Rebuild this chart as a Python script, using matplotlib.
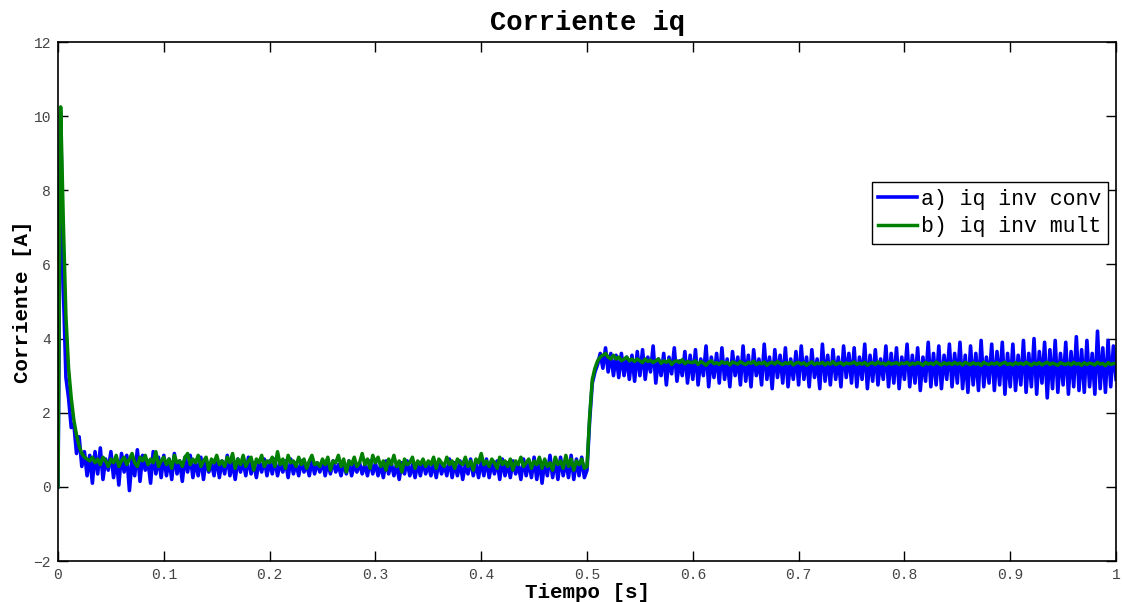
import numpy as np
import matplotlib
matplotlib.use('Agg')
import matplotlib.pyplot as plt

plt.rcParams['font.family'] = ['Liberation Mono', 'DejaVu Sans Mono']

# sample time (s), 0.0025 s step
t = np.linspace(0, 1, 401)

# a) iq inv conv
iq_conv = [
    0.00, 10.10, 5.40, 2.95, 2.40, 1.60, 1.70, 0.90, 1.35, 0.55, 0.95, 0.30, 0.85, 0.10, 0.95, 0.35, 1.05, 0.20, 0.75, 0.45,
    0.95, 0.25, 0.80, 0.05, 0.90, 0.40, 0.85, -0.10, 0.75, 0.30, 1.00, 0.15, 0.85, 0.45, 0.70, 0.10, 0.95, 0.35, 0.80, 0.25,
    0.85, 0.30, 0.75, 0.20, 0.90, 0.35, 0.70, 0.15, 0.80, 0.40, 0.85, 0.25, 0.70, 0.30, 0.80, 0.20, 0.75, 0.40, 0.65, 0.30,
    0.80, 0.25, 0.70, 0.35, 0.85, 0.30, 0.65, 0.20, 0.75, 0.40, 0.70, 0.30, 0.80, 0.35, 0.65, 0.25, 0.70, 0.40, 0.75, 0.30,
    0.70, 0.35, 0.75, 0.30, 0.65, 0.40, 0.70, 0.25, 0.75, 0.35, 0.65, 0.30, 0.70, 0.40, 0.60, 0.30, 0.70, 0.35, 0.65, 0.40,
    0.70, 0.30, 0.65, 0.35, 0.70, 0.40, 0.60, 0.30, 0.65, 0.35, 0.70, 0.30, 0.60, 0.40, 0.65, 0.35, 0.60, 0.30, 0.70, 0.35,
    0.65, 0.30, 0.60, 0.25, 0.70, 0.35, 0.65, 0.30, 0.60, 0.20, 0.65, 0.35, 0.70, 0.30, 0.60, 0.25, 0.65, 0.30, 0.70, 0.35,
    0.60, 0.30, 0.65, 0.25, 0.70, 0.35, 0.60, 0.30, 0.75, 0.25, 0.65, 0.30, 0.70, 0.20, 0.60, 0.35, 0.75, 0.30, 0.65, 0.25,
    0.70, 0.30, 0.75, 0.25, 0.65, 0.35, 0.70, 0.20, 0.75, 0.30, 0.65, 0.25, 0.70, 0.35, 0.60, 0.20, 0.75, 0.30, 0.70, 0.25,
    0.80, 0.20, 0.75, 0.10, 0.70, 0.30, 0.85, 0.25, 0.75, 0.20, 0.80, 0.30, 0.70, 0.25, 0.85, 0.20, 0.75, 0.30, 0.80, 0.25,
    0.45, 1.80, 2.80, 3.10, 3.30, 3.60, 3.20, 3.75, 3.10, 3.60, 3.00, 3.55, 2.95, 3.60, 3.00, 3.50, 2.90, 3.55, 2.85, 3.65,
    3.00, 3.70, 2.90, 3.50, 3.10, 3.80, 2.80, 3.45, 3.00, 3.60, 2.75, 3.50, 3.05, 3.75, 2.85, 3.40, 3.00, 3.65, 2.80, 3.55,
    2.90, 3.70, 2.75, 3.45, 3.00, 3.80, 2.70, 3.50, 2.95, 3.60, 2.80, 3.75, 2.90, 3.45, 2.70, 3.65, 3.00, 3.50, 2.75, 3.80,
    2.85, 3.55, 2.70, 3.70, 3.00, 3.45, 2.75, 3.85, 2.90, 3.50, 2.65, 3.70, 2.95, 3.55, 2.80, 3.75, 2.70, 3.45, 2.90, 3.65,
    2.75, 3.80, 2.90, 3.50, 2.70, 3.70, 2.95, 3.45, 2.65, 3.85, 2.85, 3.55, 2.75, 3.70, 2.90, 3.50, 2.70, 3.80, 2.95, 3.60,
    2.80, 3.75, 2.70, 3.50, 2.90, 3.85, 2.65, 3.55, 2.85, 3.70, 2.75, 3.45, 2.90, 3.80, 2.70, 3.60, 2.80, 3.75, 2.65, 3.50,
    2.90, 3.85, 2.70, 3.55, 2.80, 3.75, 2.60, 3.50, 2.85, 3.90, 2.70, 3.60, 2.75, 3.80, 2.65, 3.55, 2.90, 3.85, 2.70, 3.60,
    2.80, 3.90, 2.65, 3.55, 2.55, 3.80, 2.75, 3.60, 2.60, 3.95, 2.70, 3.50, 2.80, 3.85, 2.60, 3.65, 2.75, 3.90, 2.50, 3.60,
    2.70, 3.85, 2.60, 3.55, 2.75, 3.95, 2.55, 3.60, 2.70, 4.00, 2.50, 3.65, 2.80, 3.90, 2.40, 3.70, 2.65, 3.95, 2.55, 3.60,
    2.75, 3.90, 2.50, 3.65, 2.70, 4.05, 2.60, 3.70, 2.55, 3.95, 2.70, 3.60, 2.50, 4.20, 2.65, 3.75, 2.55, 3.95, 2.70, 3.80,
    2.90,
]

# b) iq inv mult
iq_mult = [
    0.00, 10.25, 7.20, 4.60, 3.20, 2.40, 1.80, 1.40, 1.10, 0.90, 0.80, 0.75, 0.70, 0.80, 0.65, 0.75, 0.60, 0.80, 0.70, 0.55,
    0.75, 0.65, 0.85, 0.55, 0.70, 0.80, 0.60, 0.75, 0.90, 0.65, 0.55, 0.80, 0.70, 0.85, 0.60, 0.75, 0.65, 0.95, 0.55, 0.70,
    0.80, 0.60, 0.75, 0.50, 0.85, 0.65, 0.70, 0.55, 0.80, 0.90, 0.60, 0.75, 0.65, 0.85, 0.55, 0.70, 0.80, 0.45, 0.75, 0.65,
    0.85, 0.60, 0.70, 0.55, 0.80, 0.65, 0.90, 0.50, 0.75, 0.60, 0.85, 0.55, 0.70, 0.80, 0.45, 0.75, 0.65, 0.85, 0.55, 0.70,
    0.65, 0.80, 0.55, 0.95, 0.60, 0.75, 0.50, 0.85, 0.65, 0.70, 0.55, 0.80, 0.60, 0.75, 0.50, 0.70, 0.85, 0.60, 0.65, 0.55,
    0.75, 0.60, 0.80, 0.45, 0.70, 0.65, 0.85, 0.55, 0.75, 0.40, 0.70, 0.60, 0.80, 0.55, 0.65, 0.90, 0.60, 0.75, 0.50, 0.85,
    0.65, 0.80, 0.55, 0.70, 0.45, 0.75, 0.60, 0.85, 0.55, 0.70, 0.40, 0.75, 0.60, 0.65, 0.80, 0.50, 0.70, 0.60, 0.75, 0.55,
    0.70, 0.60, 0.80, 0.50, 0.75, 0.65, 0.55, 0.80, 0.60, 0.70, 0.50, 0.75, 0.65, 0.60, 0.80, 0.55, 0.70, 0.45, 0.75, 0.65,
    0.90, 0.60, 0.70, 0.55, 0.75, 0.65, 0.50, 0.80, 0.60, 0.70, 0.55, 0.75, 0.45, 0.70, 0.60, 0.80, 0.55, 0.65, 0.75, 0.50,
    0.70, 0.60, 0.80, 0.50, 0.75, 0.55, 0.65, 0.45, 0.80, 0.60, 0.70, 0.50, 0.85, 0.55, 0.75, 0.45, 0.70, 0.60, 0.75, 0.50,
    0.55, 1.90, 2.90, 3.20, 3.40, 3.50, 3.55, 3.60, 3.50, 3.45, 3.55, 3.45, 3.50, 3.40, 3.45, 3.50, 3.40, 3.45, 3.38, 3.45,
    3.40, 3.35, 3.45, 3.38, 3.42, 3.35, 3.40, 3.45, 3.33, 3.40, 3.36, 3.42, 3.30, 3.38, 3.40, 3.35, 3.43, 3.32, 3.38, 3.36,
    3.35, 3.40, 3.30, 3.38, 3.34, 3.28, 3.36, 3.40, 3.32, 3.35, 3.30, 3.38, 3.33, 3.36, 3.29, 3.37, 3.34, 3.31, 3.38, 3.33,
    3.30, 3.36, 3.33, 3.39, 3.30, 3.35, 3.32, 3.37, 3.28, 3.34, 3.36, 3.31, 3.38, 3.33, 3.30, 3.35, 3.32, 3.37, 3.29, 3.34,
    3.36, 3.31, 3.35, 3.28, 3.33, 3.37, 3.30, 3.34, 3.32, 3.36, 3.29, 3.35, 3.31, 3.38, 3.30, 3.33, 3.35, 3.29, 3.34, 3.32,
    3.33, 3.37, 3.30, 3.34, 3.31, 3.36, 3.28, 3.33, 3.35, 3.30, 3.37, 3.32, 3.34, 3.29, 3.36, 3.31, 3.33, 3.35, 3.30, 3.34,
    3.32, 3.36, 3.29, 3.34, 3.31, 3.35, 3.33, 3.28, 3.36, 3.31, 3.34, 3.30, 3.37, 3.32, 3.29, 3.35, 3.31, 3.34, 3.30, 3.36,
    3.31, 3.34, 3.29, 3.36, 3.32, 3.30, 3.35, 3.31, 3.33, 3.28, 3.36, 3.32, 3.30, 3.34, 3.31, 3.35, 3.29, 3.33, 3.36, 3.30,
    3.33, 3.29, 3.35, 3.31, 3.34, 3.30, 3.36, 3.32, 3.28, 3.34, 3.31, 3.35, 3.29, 3.33, 3.36, 3.30, 3.34, 3.31, 3.28, 3.35,
    3.32, 3.30, 3.34, 3.29, 3.36, 3.31, 3.33, 3.28, 3.35, 3.30, 3.34, 3.32, 3.29, 3.36, 3.31, 3.33, 3.27, 3.35, 3.30, 3.33,
    3.32,
]

xticks = np.arange(0, 1.01, 0.1)
xtick_labels = ['0', '0.1', '0.2', '0.3', '0.4', '0.5', '0.6', '0.7', '0.8', '0.9', '1']
yticks = np.arange(-2, 13, 2)

fig = plt.figure(figsize=(11.24, 6.02), dpi=100)
ax = fig.add_axes([0.0516, 0.0681, 0.9413, 0.8621])

ax.plot(t, iq_conv, color='#0000ff', lw=2.6, label='a) iq inv conv')
ax.plot(t, iq_mult, color='#008000', lw=2.5, label='b) iq inv mult')

ax.set_xlim(0, 1)
ax.set_ylim(-2, 12)
ax.set_xticks(xticks)
ax.set_xticklabels(xtick_labels)
ax.set_yticks(yticks)
ax.tick_params(direction='in', length=7.2, width=1, top=True, right=True,
               labelsize=10.5, labelcolor='#444444', pad=5)
for s in ax.spines.values():
    s.set_linewidth(1.2)

ax.set_title('Corriente iq', fontsize=19.5, fontweight='bold', pad=9)
ax.set_xlabel('Tiempo [s]', fontsize=15, fontweight='bold', labelpad=1)
ax.set_ylabel('Corriente [A]', fontsize=15, fontweight='bold', labelpad=1)

leg = ax.legend(loc='upper right', bbox_to_anchor=(0.9924, 0.730), borderaxespad=0,
                fontsize=15.5, fancybox=False, framealpha=1, edgecolor='black',
                handlelength=1.8, handletextpad=0.2, borderpad=0.3, labelspacing=0.3)
leg.get_frame().set_linewidth(1.0)

plt.savefig('out.png', dpi=100)
